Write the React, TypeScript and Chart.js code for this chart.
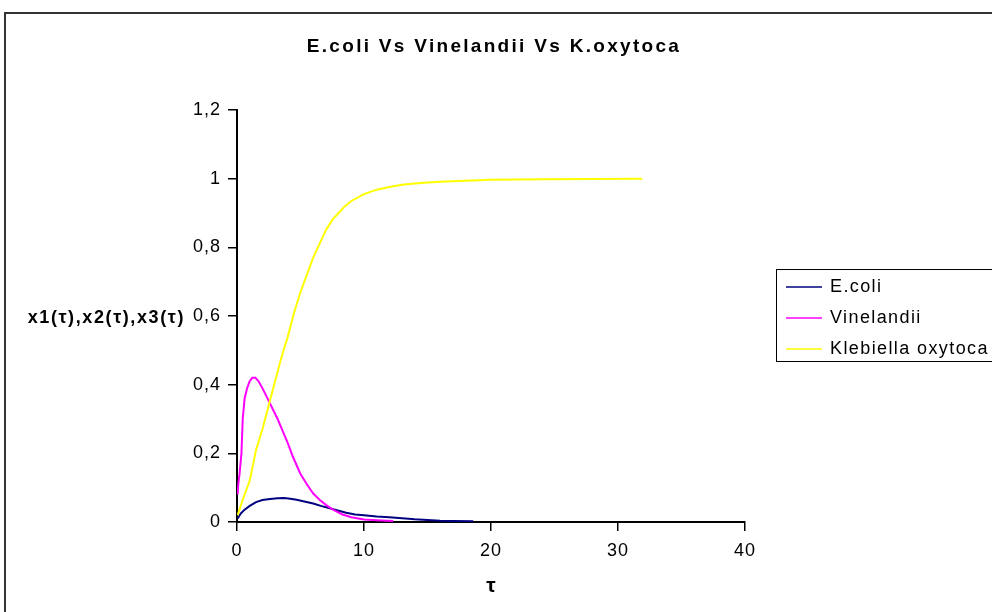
import React, { useEffect, useRef } from 'react';
import { Chart, registerables } from 'chart.js';

Chart.register(...registerables);

const chartTitle = 'E.coli Vs Vinelandii Vs K.oxytoca';
const yAxisLabel = 'x1(τ),x2(τ),x3(τ)';
const xAxisLabel = 'τ';
const seriesNames = ['E.coli', 'Vinelandii', 'Klebiella oxytoca'];
const seriesColors = ['#000080', '#FF00FF', '#FFFF00'];

const xTicks = [0, 10, 20, 30, 40];
const yTicks = [0, 0.2, 0.4, 0.6, 0.8, 1, 1.2];

const ecoliT = [0.05, 0.3, 0.6, 1, 1.5, 2, 2.6, 3.2, 3.7, 4.2, 4.7, 5.3, 6, 6.6, 7.3, 8, 8.6, 9.3, 10, 11, 12, 13, 14, 15, 16, 17, 18.6];
const ecoliX = [0.01, 0.025, 0.036, 0.047, 0.058, 0.064, 0.067, 0.069, 0.07, 0.068, 0.065, 0.06, 0.054, 0.047, 0.04, 0.033, 0.027, 0.022, 0.02, 0.016, 0.014, 0.011, 0.008, 0.006, 0.004, 0.003, 0.002];

const vinelandiiT = [0.05, 0.1, 0.2, 0.35, 0.45, 0.6, 0.8, 1.0, 1.2, 1.45, 1.7, 2.0, 2.4, 2.8, 3.2, 3.6, 4.0, 4.4, 5.0, 5.5, 6.0, 6.5, 7.0, 7.6, 8.3, 9.0, 10.0, 11.0, 12.3];
const vinelandiiX = [0.08, 0.11, 0.14, 0.2, 0.3, 0.36, 0.39, 0.41, 0.42, 0.42, 0.41, 0.39, 0.36, 0.33, 0.3, 0.265, 0.23, 0.19, 0.14, 0.11, 0.083, 0.065, 0.05, 0.035, 0.022, 0.014, 0.007, 0.005, 0.003];

const klebiellaT = [0.05, 0.5, 1, 1.5, 2, 2.5, 3, 3.5, 4, 4.5, 5, 5.5, 6, 6.5, 7, 7.5, 8, 8.5, 9, 10, 11, 12, 13, 14, 15, 16, 18, 20, 24, 28, 31.9];
const klebiellaX = [0.02, 0.07, 0.12, 0.21, 0.27, 0.34, 0.41, 0.48, 0.54, 0.61, 0.67, 0.72, 0.77, 0.81, 0.85, 0.88, 0.9, 0.92, 0.935, 0.955, 0.968, 0.976, 0.982, 0.986, 0.989, 0.991, 0.994, 0.997, 0.998, 0.999, 1.0];

const seriesT = [ecoliT, vinelandiiT, klebiellaT];
const seriesX = [ecoliX, vinelandiiX, klebiellaX];

const FONT = '"Liberation Sans", Arial, sans-serif';

const spacingPlugin = {
  id: 'spacing',
  beforeDraw(chart: any) {
    (chart.ctx as any).letterSpacing = '1px';
  },
  afterDatasetsDraw(chart: any) {
    (chart.ctx as any).letterSpacing = '0px';
  },
};

const decorPlugin = {
  id: 'decor',
  afterDraw(chart: any) {
    const ctx = chart.ctx as CanvasRenderingContext2D;
    const area = chart.chartArea;
    ctx.save();
    // outer frame
    ctx.strokeStyle = '#333';
    ctx.lineWidth = 2;
    ctx.strokeRect(5, 13, 1100, 800);

    // title
    ctx.fillStyle = '#000';
    (ctx as any).letterSpacing = '2.3px';
    ctx.font = `bold 19px ${FONT}`;
    ctx.textAlign = 'center';
    ctx.textBaseline = 'middle';
    ctx.fillText(chartTitle, 494, 47);

    // y label
    (ctx as any).letterSpacing = '1.6px';
    ctx.font = `bold 18px ${FONT}`;
    ctx.textAlign = 'right';
    ctx.fillText(yAxisLabel, 185, 318);

    // x label
    (ctx as any).letterSpacing = '0px';
    ctx.font = `bold 21px ${FONT}`;
    ctx.textAlign = 'center';
    ctx.fillText(xAxisLabel, (area.left + area.right) / 2, 586);

    // legend
    ctx.strokeStyle = '#000';
    ctx.lineWidth = 1;
    ctx.strokeRect(776.5, 269.5, 260, 92);
    const rows = [287, 318, 349];
    ctx.font = `18px ${FONT}`;
    (ctx as any).letterSpacing = '1.4px';
    ctx.textAlign = 'left';
    seriesNames.forEach((name, i) => {
      ctx.strokeStyle = seriesColors[i];
      ctx.lineWidth = 1.5;
      ctx.beginPath();
      ctx.moveTo(786, rows[i]);
      ctx.lineTo(822, rows[i]);
      ctx.stroke();
      ctx.fillStyle = '#000';
      ctx.fillText(name, 830, rows[i]);
    });
    ctx.restore();
  },
};

function fmt(v: number) {
  return String(Number(v.toFixed(1))).replace('.', ',');
}

export default function App() {
  const ref = useRef<HTMLCanvasElement | null>(null);
  useEffect(() => {
    if (!ref.current) return;
    const datasets = seriesNames.map((name, i) => ({
      label: name,
      data: seriesT[i].map((t, j) => ({ x: t, y: seriesX[i][j] })),
      borderColor: seriesColors[i],
      backgroundColor: seriesColors[i],
      borderWidth: 2,
      pointRadius: 0,
      tension: 0,
      fill: false,
      order: 2 - i,
    }));
    const chart = new Chart(ref.current, {
      type: 'line',
      data: { datasets },
      options: {
        animation: false,
        responsive: false,
        layout: { padding: { left: 0, top: 110, right: 247, bottom: 0 } },
        plugins: { legend: { display: false }, title: { display: false }, tooltip: { enabled: false } },
        scales: {
          x: {
            type: 'linear',
            min: xTicks[0],
            max: xTicks[xTicks.length - 1],
            afterBuildTicks: (s: any) => { s.ticks = xTicks.map((v) => ({ value: v })); },
            afterFit: (s: any) => { s.height = 90; },
            grid: { drawOnChartArea: false, drawTicks: true, tickLength: 9, color: '#000', lineWidth: 1.5 },
            border: { display: true, color: '#000', width: 2 },
            ticks: { color: '#000', font: { family: FONT, size: 18 }, padding: 9, maxRotation: 0, callback: (v: any) => String(v) },
          },
          y: {
            type: 'linear',
            min: yTicks[0],
            max: yTicks[yTicks.length - 1],
            afterBuildTicks: (s: any) => { s.ticks = yTicks.map((v) => ({ value: v })); },
            afterFit: (s: any) => { s.width = 237; },
            grid: { drawOnChartArea: false, drawTicks: true, tickLength: 9, color: '#000', lineWidth: 1.5 },
            border: { display: true, color: '#000', width: 2 },
            ticks: { color: '#000', font: { family: FONT, size: 18 }, padding: 7, callback: (v: any) => fmt(Number(v)) },
          },
        },
      },
      plugins: [spacingPlugin, decorPlugin],
    });
    return () => chart.destroy();
  }, []);
  return (
    <div style={{ position: 'absolute', left: 0, top: 0, width: 992, height: 612, background: '#fff', overflow: 'hidden' }}>
      <canvas ref={ref} width={992} height={612} style={{ display: 'block' }} />
    </div>
  );
}
